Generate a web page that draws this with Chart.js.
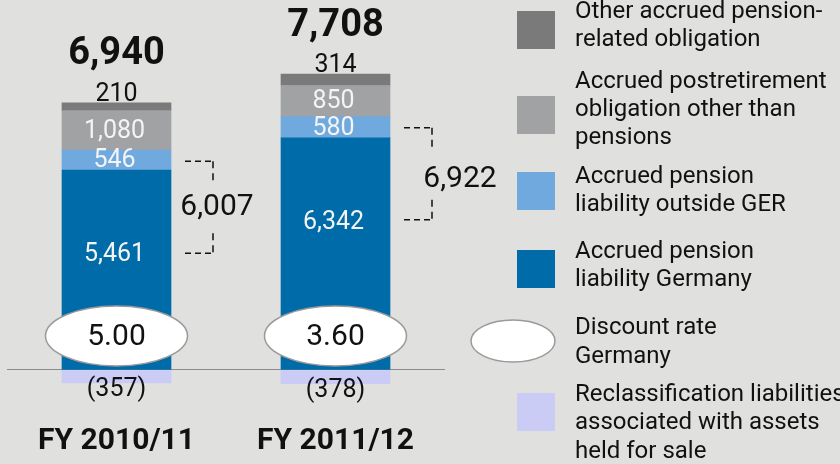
<!DOCTYPE html>
<html>
<head>
<meta charset="utf-8">
<script src="https://cdn.jsdelivr.net/npm/chart.js@4"></script>
<style>
  html, body { margin: 0; padding: 0; background: #e0e0de; }
  #wrap { width: 840px; height: 464px; }
</style>
</head>
<body>
<div id="wrap"><canvas id="myChart" width="840" height="464"></canvas></div>
<script>
'use strict';

// values in EUR million
let categories = ['FY 2010/11', 'FY 2011/12'];
let pensionGermany = [5461, 6342];
let pensionOutsideGer = [546, 580];
let postretirement = [1080, 850];
let otherPension = [210, 314];
let reclassified = [-357, -378];
let discountRate = [5.00, 3.60];
let totals = [6940, 7708];
let pensionTotals = [6007, 6922];

let ctx = document.getElementById('myChart');
let textFont = 'Roboto, "Liberation Sans", sans-serif';

function fmt(n) {
  let s = Math.abs(n).toLocaleString('en-US');
  return n < 0 ? '(' + s + ')' : s;
}

let legendItems = [
  { color: '#7a7a7a', top: 11, lines: [['Other accrued pension-', 11], ['related obligation', 39]] },
  { color: '#a1a2a4', top: 96, lines: [['Accrued postretirement', 81], ['obligation other than', 109], ['pensions', 137]] },
  { color: '#70a9de', top: 172, lines: [['Accrued pension', 176], ['liability outside GER', 204]] },
  { color: '#006ba9', top: 250, lines: [['Accrued pension', 251], ['liability Germany', 279]] },
  { ellipse: true, lines: [['Discount rate', 327], ['Germany', 356]] },
  { color: '#cbccf6', top: 393, lines: [['Reclassification liabilities', 394], ['associated with assets', 422], ['held for sale', 451]] }
];

function dashedLine(c, x1, y1, x2, y2) {
  c.beginPath();
  c.moveTo(x1, y1);
  c.lineTo(x2, y2);
  c.stroke();
}

let annotations = {
  id: 'annotations',
  beforeDraw(chart) {
    let c = chart.ctx;
    c.save();
    c.fillStyle = '#e0e0de';
    c.fillRect(0, 0, chart.width, chart.height);
    c.restore();
  },
  afterDatasetsDraw(chart) {
    let c = chart.ctx;
    let yScale = chart.scales.y;
    let zeroY = yScale.getPixelForValue(0);
    let metaGer = chart.getDatasetMeta(0);
    let metaOut = chart.getDatasetMeta(1);
    let metaPost = chart.getDatasetMeta(2);
    let metaOther = chart.getDatasetMeta(3);
    let metaRe = chart.getDatasetMeta(4);
    c.save();
    c.textAlign = 'center';
    c.textBaseline = 'middle';

    for (let i = 0; i < categories.length; i++) {
      let ger = metaGer.data[i];
      let out = metaOut.data[i];
      let post = metaPost.data[i];
      let other = metaOther.data[i];
      let re = metaRe.data[i];
      let x = ger.x;

      // segment labels
      c.font = '25px ' + textFont;
      c.fillStyle = '#f4f4f4';
      c.fillText(fmt(pensionGermany[i]), x - 2, ger.y + 85);
      c.fillText(fmt(pensionOutsideGer[i]), x - 2, (out.y + out.base) / 2 + 1);
      c.fillText(fmt(postretirement[i]), x - 2, (post.y + post.base) / 2 + 1);
      c.fillStyle = '#111';
      c.fillText(fmt(otherPension[i]), x, other.y - 8);
      c.fillText(fmt(reclassified[i]), x, re.y + 7);

      // total above the stack
      c.font = 'bold 38px ' + textFont;
      c.fillText(fmt(totals[i]), x, other.y - 48);

      // discount rate ellipse
      let ey = zeroY - 34;
      c.beginPath();
      c.ellipse(x, ey, 71, 30, 0, 0, Math.PI * 2);
      c.fillStyle = '#ffffff';
      c.fill();
      c.lineWidth = 1.5;
      c.strokeStyle = '#9a9a9a';
      c.stroke();
      c.fillStyle = '#111';
      c.font = '30px ' + textFont;
      c.fillText(discountRate[i].toFixed(2), x, ey + 2);

      // dashed bracket around the pension liabilities
      let bx1 = x + ger.width / 2 + 14;
      let bx2 = bx1 + 28;
      let top = out.y + 11;
      let bottom = top + 92;
      let mid = (top + bottom) / 2;
      c.strokeStyle = '#111';
      c.lineWidth = 1.5;
      c.setLineDash([6, 4]);
      dashedLine(c, bx1, top, bx2, top);
      dashedLine(c, bx1, bottom, bx2, bottom);
      c.setLineDash([7, 5]);
      dashedLine(c, bx2, top, bx2, mid - 26);
      dashedLine(c, bx2, mid + 26, bx2, bottom);
      c.setLineDash([]);
      c.font = '30px ' + textFont;
      c.fillStyle = '#111';
      let lx = i === 0 ? bx2 + 4 : bx2 + 28;
      let ly = i === 0 ? mid : mid + 6;
      c.fillText(fmt(pensionTotals[i]), lx, ly);
    }

    // legend
    c.textAlign = 'left';
    c.font = '24px ' + textFont;
    legendItems.forEach(item => {
      if (item.ellipse) {
        c.beginPath();
        c.ellipse(513, 341, 42, 21, 0, 0, Math.PI * 2);
        c.fillStyle = '#ffffff';
        c.fill();
        c.lineWidth = 1.5;
        c.strokeStyle = '#9a9a9a';
        c.stroke();
      } else {
        c.fillStyle = item.color;
        c.fillRect(517, item.top, 38, 38);
      }
      c.fillStyle = '#111';
      item.lines.forEach(l => c.fillText(l[0], 575, l[1] + 1));
    });
    c.restore();
  }
};

new Chart(ctx, {
  type: 'bar',
  data: {
    labels: categories,
    datasets: [
      { label: 'Accrued pension liability Germany', data: pensionGermany, backgroundColor: '#006ba9' },
      { label: 'Accrued pension liability outside GER', data: pensionOutsideGer, backgroundColor: '#70a9de' },
      { label: 'Accrued postretirement obligation other than pensions', data: postretirement, backgroundColor: '#a1a2a4' },
      { label: 'Other accrued pension-related obligation', data: otherPension, backgroundColor: '#7a7a7a' },
      { label: 'Reclassification liabilities associated with assets held for sale', data: reclassified, backgroundColor: '#cbccf6' }
    ]
  },
  options: {
    responsive: false,
    animation: false,
    devicePixelRatio: 1,
    layout: { padding: { left: 7, right: 395, top: 4, bottom: 1 } },
    datasets: { bar: { barThickness: 109, borderWidth: 0 } },
    plugins: { legend: { display: false }, tooltip: { enabled: false } },
    scales: {
      x: {
        stacked: true,
        border: { display: false },
        grid: { display: false, drawTicks: false },
        ticks: { padding: 4, color: '#111', font: { family: textFont, size: 30, weight: 'bold' } }
      },
      y: {
        stacked: true,
        min: -1340,
        max: 10000,
        border: { display: false },
        ticks: { display: false },
        afterBuildTicks: axis => { axis.ticks = [{ value: 0 }]; },
        grid: {
          drawTicks: false,
          color: c => c.tick && c.tick.value === 0 ? '#8c8c8c' : 'transparent',
          lineWidth: 1
        }
      }
    }
  },
  plugins: [annotations]
});
</script>
</body>
</html>
